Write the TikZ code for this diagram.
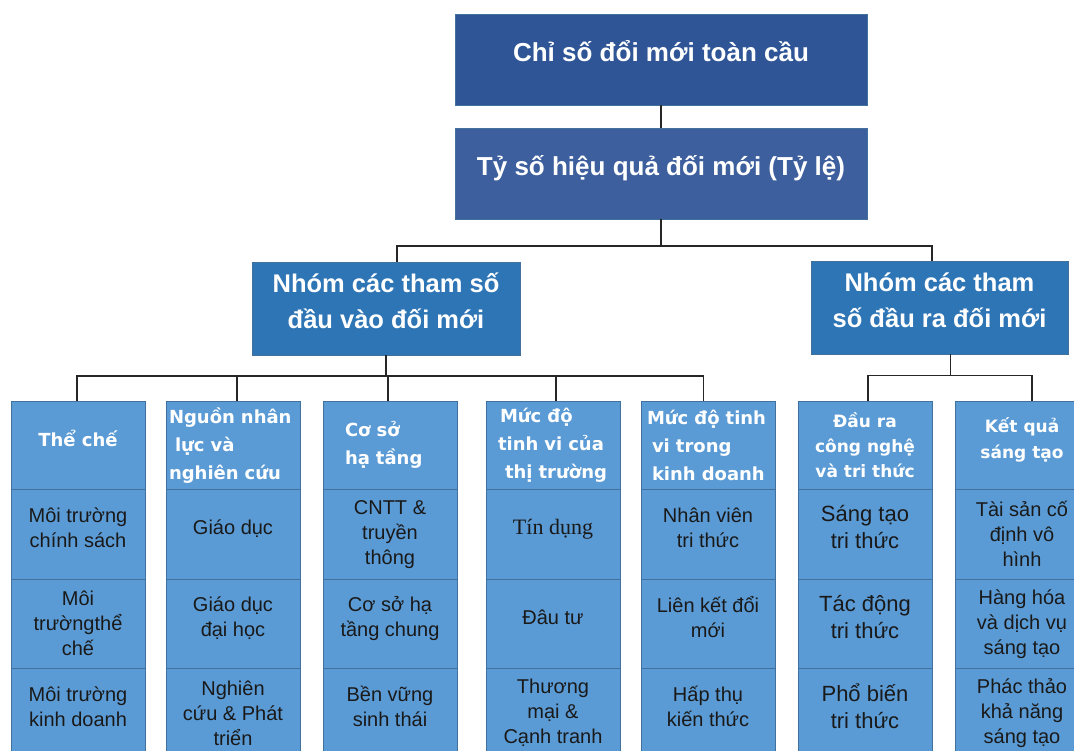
\documentclass[tikz,border=0pt]{standalone}
\usepackage{fontspec}
\setmainfont{Liberation Sans}
\newfontfamily\hdrfont{DejaVu Sans}
\newfontfamily\tdfont{Liberation Serif}
\usetikzlibrary{positioning}
\definecolor{GIINavy}{HTML}{2F5597}
\definecolor{GIIRatio}{HTML}{3D5F9D}
\definecolor{GIIGroup}{HTML}{2E75B6}
\definecolor{GIICell}{HTML}{5B9BD5}
\definecolor{GIIEdge}{HTML}{41719C}
\definecolor{GIILine}{HTML}{262626}

\begin{document}
\begin{tikzpicture}[x=1pt,y=-1pt,
    topbox/.style={draw=GIIEdge,fill=GIINavy,text=white,minimum width=412pt,
      minimum height=91pt,outer sep=0pt,text height=20pt,text depth=16pt,
      font=\fontsize{26}{30}\selectfont\bfseries},
    groupbox/.style={draw=GIIEdge,fill=GIIGroup,text=white,minimum height=93pt,
      outer sep=0pt,align=center,font=\fontsize{25.5}{36}\selectfont\bfseries,
      execute at end node={\rule[-16pt]{0pt}{0pt}}},
    hdr/.style={draw=GIIEdge,fill=GIICell,text=white,minimum width=134pt,
      minimum height=88.5pt,inner sep=3pt,outer sep=0pt,align=center,
      font=\hdrfont\fontsize{18}{28}\selectfont\bfseries},
    hdrL/.style={hdr,text width=128pt,align=left},
    lifted/.style={execute at end node={\rule[-14pt]{0pt}{0pt}}},
    cell3/.style={draw=GIIEdge,fill=GIICell,text=black!90,minimum width=134pt,
      minimum height=89.5pt,inner sep=3pt,outer sep=0pt,align=center,
      font=\fontsize{20}{25}\selectfont},
    cell/.style={cell3,lifted},
    link/.style={draw=GIILine,line width=1.4pt}
  ]
    \useasboundingbox (0,0) rectangle (1074,751);
    \clip (0,0) rectangle (1074,751);
    \fill[white] (0,0) rectangle (1074,751);

    % index and ratio
    \node[topbox] (gii) at (661,59.5) {Chỉ số đổi mới toàn cầu};
    \node[topbox,fill=GIIRatio,below=23pt of gii] (ratio) {Tỷ số hiệu quả đối mới (Tỷ lệ)};

    % sub-indices
    \node[groupbox,minimum width=268pt] (inG) at (386,308.5) {Nhóm các tham số\\đầu vào đối mới};
    \node[groupbox,minimum width=257pt] (outG) at (939.5,308) {Nhóm các tham\\số đầu ra đối mới};

    % pillars
    \node[hdr,lifted,anchor=north west] (h1) at (11,401) {Thể chế};
    \node[hdrL,right=21pt of h1] (h2) {Nguồn nhân\\\hspace*{6pt}lực và\\nghiên cứu};
    \node[hdrL,right=23pt of h2] (h3) {\hspace*{19pt}Cơ sở\\\hspace*{19pt}hạ tầng};
    \node[hdrL,right=29pt of h3] (h4) {\hspace*{11pt}Mức độ\\\hspace*{9pt}tinh vi của\\\hspace*{16pt}thị trường};
    \node[hdrL,right=21pt of h4] (h5) {\hspace*{3pt}Mức độ tinh\\\hspace*{8pt}vi trong\\\hspace*{8pt}kinh doanh};
    \node[hdr,right=23pt of h5,font=\hdrfont\fontsize{17}{25}\selectfont\bfseries] (h6) {Đầu ra\\công nghệ\\và tri thức};
    \node[hdr,lifted,right=23pt of h6,font=\hdrfont\fontsize{17}{26}\selectfont\bfseries] (h7) {Kết quả\\sáng tạo};

    % sub-pillars
    \node[cell,below=0pt of h1] (c11) {Môi trường\\chính sách};
    \node[cell3,below=0pt of c11] (c12) {Môi\\trườngthể\\chế};
    \node[cell,below=0pt of c12] (c13) {Môi trường\\kinh doanh};

    \node[cell,below=0pt of h2] (c21) {Giáo dục};
    \node[cell,below=0pt of c21] (c22) {Giáo dục\\đại học};
    \node[cell3,below=0pt of c22] (c23) {Nghiên\\cứu \& Phát\\triển};

    \node[cell3,below=0pt of h3] (c31) {CNTT \&\\truyền\\thông};
    \node[cell,below=0pt of c31] (c32) {Cơ sở hạ\\tầng chung};
    \node[cell,below=0pt of c32] (c33) {Bền vững\\sinh thái};

    \node[cell,below=0pt of h4,font=\tdfont\fontsize{22}{26}\selectfont] (c41) {Tín dụng};
    \node[cell,below=0pt of c41] (c42) {Đâu tư};
    \node[cell3,below=0pt of c42] (c43) {Thương\\mại \&\\Cạnh tranh};

    \node[cell,below=0pt of h5] (c51) {Nhân viên\\tri thức};
    \node[cell,below=0pt of c51] (c52) {Liên kết đổi\\mới};
    \node[cell,below=0pt of c52] (c53) {Hấp thụ\\kiến thức};

    \node[cell,below=0pt of h6,font=\fontsize{22}{27}\selectfont] (c61) {Sáng tạo\\tri thức};
    \node[cell,below=0pt of c61,font=\fontsize{22}{27}\selectfont] (c62) {Tác động\\tri thức};
    \node[cell,below=0pt of c62,font=\fontsize{22}{27}\selectfont] (c63) {Phổ biến\\tri thức};

    \node[cell3,below=0pt of h7] (c71) {Tài sản cố\\định vô\\hình};
    \node[cell3,below=0pt of c71] (c72) {Hàng hóa\\và dịch vụ\\sáng tạo};
    \node[cell3,below=0pt of c72] (c73) {Phác thảo\\khả năng\\sáng tạo};

    % tree lines
    \path (ratio.south) ++(0,27) coordinate (topBus);
    \draw[link] (gii) -- (ratio);
    \draw[link] (ratio) -- (topBus);
    \draw[link] (topBus) -| ([xshift=11pt]inG.north);
    \draw[link] (topBus) -| ([xshift=-7.5pt]outG.north);

    \path (inG.south) ++(0,21) coordinate (inBus);
    \draw[link] (inG) -- (inBus);
    \draw[link] ([xshift=-1pt]h1.north) |- (inBus) -| ([xshift=-4.5pt]h5.north);
    \draw[link] ([xshift=4pt]h2.north) -- ([xshift=4pt]h2.north |- inBus);
    \draw[link] ([xshift=-2pt]h3.north) -- ([xshift=-2pt]h3.north |- inBus);
    \draw[link] ([xshift=3pt]h4.north) -- ([xshift=3pt]h4.north |- inBus);

    \path ([xshift=11pt]outG.south) ++(0,21) coordinate (outBus);
    \draw[link] ([xshift=11pt]outG.south) -- (outBus);
    \draw[link] ([xshift=3pt]h6.north) |- (outBus) -| ([xshift=10pt]h7.north);
  \end{tikzpicture}
\end{document}
